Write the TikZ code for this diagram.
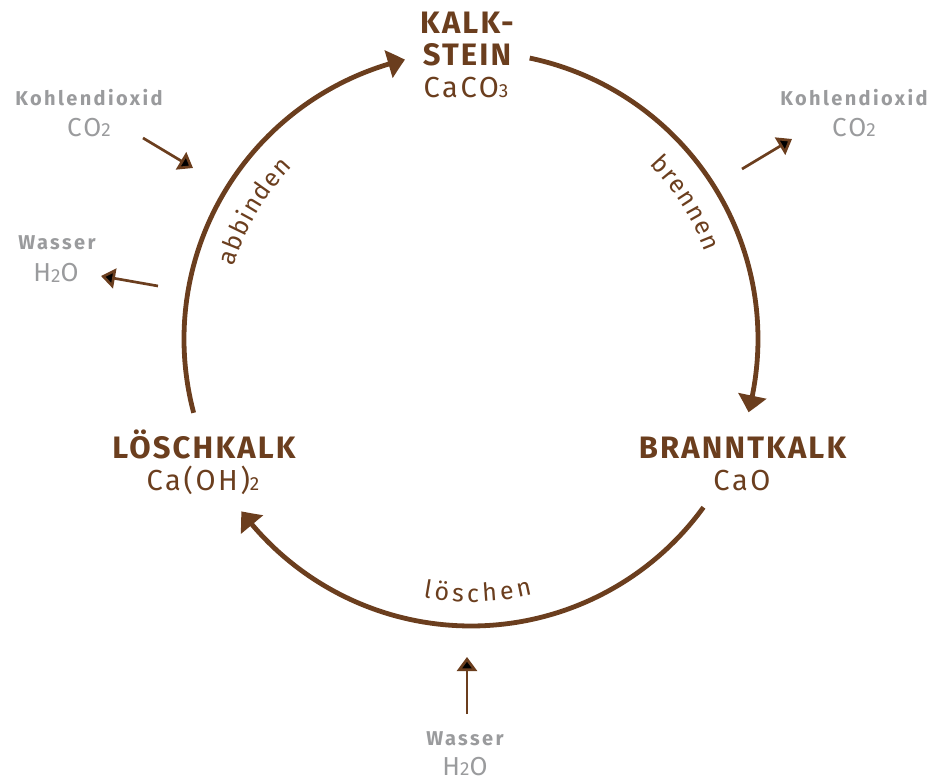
\documentclass[tikz,border=0pt]{standalone}
\usepackage{fontspec}
\setmainfont{Fira Sans}
\newfontfamily\stofffont[LetterSpace=7]{Fira Sans}
\newfontfamily\nebenfont[LetterSpace=12]{Fira Sans}
\newfontfamily\formfont[LetterSpace=9]{Fira Sans}
\newfontfamily\bogenfont{Fira Sans}
\usetikzlibrary{arrows.meta, bending, decorations.text, positioning}
\definecolor{kbrown}{HTML}{6B3E1E}
\definecolor{kgray}{HTML}{9A9B9D}
\newcommand\chsub[1]{{\fontsize{19}{19}\selectfont #1}}

\begin{document}
\begin{tikzpicture}[x=1pt, y=1pt,
                    stoff/.style={text=kbrown, font=\stofffont\bfseries\fontsize{31}{32}\selectfont, align=center, inner sep=0pt},
                    formel/.style={text=kbrown, font=\formfont\fontsize{29}{30}\selectfont, inner sep=0pt, anchor=base},
                    nebenstoff/.style={text=kgray, font=\nebenfont\bfseries\fontsize{20}{20}\selectfont, inner sep=0pt, anchor=base},
                    nebenformel/.style={text=kgray, font=\formfont\fontsize{26}{26}\selectfont, inner sep=0pt, anchor=base},
                    kreislauf/.style={draw=kbrown, line width=4.8pt, -{Triangle[length=17pt, width=28pt, bend]}},
                    zufuhr/.style={draw=kbrown, line width=2.7pt, -{Triangle[length=14pt, width=20pt]}},
                    beschriftung/.style={decorate, decoration={text along path, text align=fit to path, text color=kbrown, text={|\bogenfont\fontsize{25}{25}\selectfont|#1}}}]
    \useasboundingbox (-471,-440) rectangle (460,339);
    \node[stoff] (kalkstein) at (-4,299.5) {KALK-\\STEIN};
    \node[formel] (kalkstein-f) at (-5,241) {CaCO\chsub{3}};
    \node[stoff, anchor=base] (branntkalk) at (271.5,-119) {BRANNTKALK};
    \node[formel] (branntkalk-f) at (271,-151) {CaO};
    \node[stoff, anchor=base] (loeschkalk) at (-267,-119) {LÖSCHKALK};
    \node[formel] (loeschkalk-f) at (-268,-151) {Ca(OH)\chsub{2}};
    \node[nebenstoff] (co2-links) at (-382,233) {Kohlendioxid};
    \node[nebenformel] (co2-links-f) at (-382,202) {CO\chsub{2}};
    \node[nebenstoff] (h2o-links) at (-414,89) {Wasser};
    \node[nebenformel] (h2o-links-f) at (-415,57) {H\chsub{2}O};
    \node[nebenstoff] (co2-rechts) at (383,233) {Kohlendioxid};
    \node[nebenformel] (co2-rechts-f) at (383,202) {CO\chsub{2}};
    \node[nebenstoff] (h2o-unten) at (-6,-406) {Wasser};
    \node[nebenformel] (h2o-unten-f) at (-6,-436) {H\chsub{2}O};
    \coordinate (brennen-a) at (78.2:287);
    \coordinate (loeschen-a) at (-35.9:287);
    \coordinate (abbinden-a) at (194.9:287);
    \draw[kreislauf] (brennen-a) arc[start angle=78.2, end angle=-14.8, radius=287];
    \draw[kreislauf] (loeschen-a) arc[start angle=-35.9, end angle=-143.1, radius=287];
    \draw[kreislauf] (abbinden-a) arc[start angle=194.9, end angle=103.3, radius=287];
    \path[beschriftung=brennen] (44.4:250) arc[start angle=44.4, end angle=20.4, radius=250];
    \path[beschriftung=löschen] (-100.5:263) arc[start angle=-100.5, end angle=-76.5, radius=263];
    \path[beschriftung=abbinden] (163:248) arc[start angle=163, end angle=136, radius=248];
    \coordinate (co2-links-a) at (-328,201);
    \coordinate (co2-links-b) at (-278,171);
    \coordinate (h2o-links-a) at (-313,53);
    \coordinate (h2o-links-b) at (-370,63);
    \coordinate (co2-rechts-a) at (271,170);
    \coordinate (co2-rechts-b) at (321,200);
    \coordinate (h2o-unten-a) at (-4,-375);
    \coordinate (h2o-unten-b) at (-4,-318);
    \draw[zufuhr] (co2-links-a) -- (co2-links-b);
    \draw[zufuhr] (h2o-links-a) -- (h2o-links-b);
    \draw[zufuhr] (co2-rechts-a) -- (co2-rechts-b);
    \draw[zufuhr] (h2o-unten-a) -- (h2o-unten-b);
\end{tikzpicture}
\end{document}
